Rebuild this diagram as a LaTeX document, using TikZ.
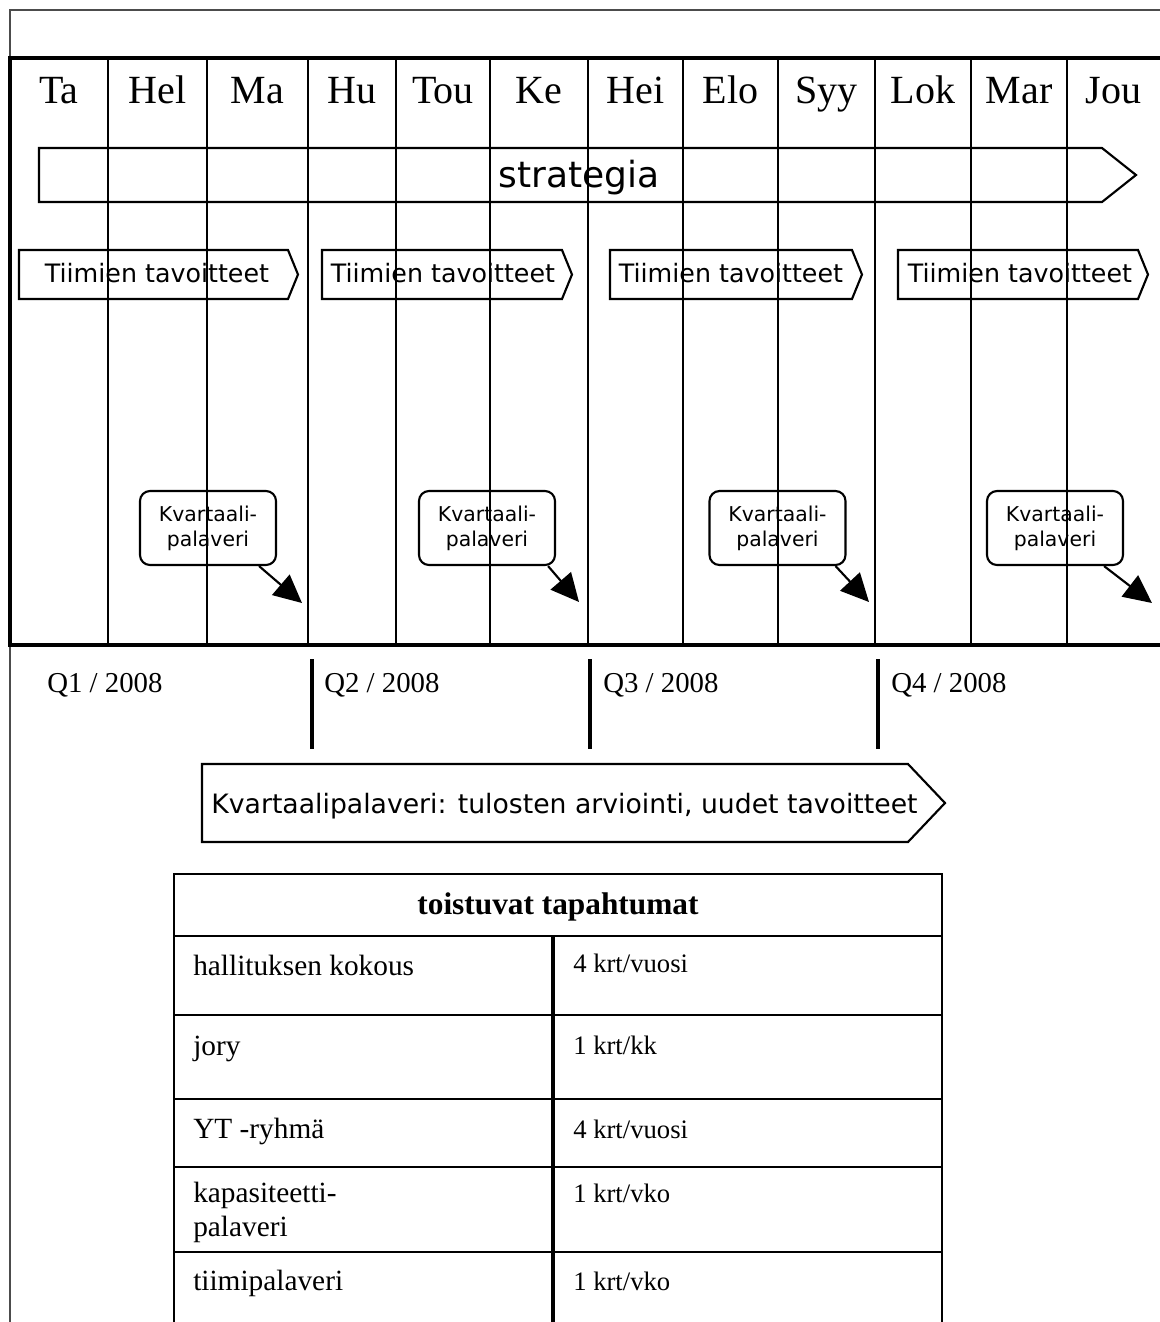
\documentclass[tikz,border=0pt]{standalone}
\usepackage{fontspec}
\setmainfont{Liberation Serif}
\newfontfamily\vsans{DejaVu Sans}
\usetikzlibrary{arrows.meta,calc}
\begin{document}
\begin{tikzpicture}[x=0.75pt,y=-0.75pt,
  frame/.style={draw=black!70, line width=1pt},
  calbox/.style={draw, line width=2.3pt},
  monthline/.style={line width=1.7pt},
  qline/.style={line width=2.3pt},
  band/.style={draw, line width=1.6pt},
  month/.style={font=\fontsize{30}{34}\selectfont, anchor=base, inner sep=0pt},
  qlabel/.style={font=\fontsize{21.6}{25}\selectfont, anchor=base west, inner sep=0pt},
  bandtext/.style={font=\vsans\fontsize{19}{22}\selectfont, anchor=base, inner sep=0pt},
  callout/.style={draw, line width=1.6pt, rounded corners=7.5pt, fill=white,
    minimum width=102pt, minimum height=55.5pt, align=center, inner sep=0pt,
    font=\vsans\fontsize{15.3}{18.75}\selectfont},
  calloutarrow/.style={line width=1.6pt, -{Triangle[length=21pt,width=20pt]}},
  cell/.style={font=\fontsize{22}{25}\selectfont, anchor=base west, inner sep=0pt},
  rcell/.style={font=\fontsize{20}{24}\selectfont, anchor=base west, inner sep=0pt},
  tline/.style={line width=1.6pt},
]
\useasboundingbox (0,0) rectangle (1160,1322);

% page frame
\draw[frame] (10,1322) -- (10,10) -- (1160,10);

% strategy band
\draw[band] (39,148) -- (1102,148) -- (1136,175) -- (1102,202) -- (39,202) -- cycle;
\node[font=\vsans\fontsize{27}{32}\selectfont, anchor=base, inner sep=0pt] (strat) at (579,187) {strategia};

% team goal bands
\foreach \a/\b/\c [count=\i] in {19/288/157, 322/562/443, 610/852/731, 898/1138/1020}{
  \draw[band] (\a,250) -- (\b,250) -- (\b+10,274.5) -- (\b,299) -- (\a,299) -- cycle;
  \node[bandtext] (goal\i) at (\c,282) {Tiimien tavoitteet};
}

% quarterly meeting callouts
\node[callout] (k1) at (208,528) {Kvartaali-\\palaveri};
\node[callout] (k2) at (487,528) {Kvartaali-\\palaveri};
\node[callout] (k3) at (777.5,528) {Kvartaali-\\palaveri};
\node[callout] (k4) at (1055,528) {Kvartaali-\\palaveri};
\coordinate (t1) at (302,603);
\coordinate (t2) at (579,602);
\coordinate (t3) at (869,602);
\coordinate (t4) at (1152,603);
\draw[calloutarrow] ($(k1.south east)+(-18,0)$) -- (t1);
\draw[calloutarrow] ($(k2.south east)+(-8,0)$) -- (t2);
\draw[calloutarrow] ($(k3.south east)+(-11,0)$) -- (t3);
\draw[calloutarrow] ($(k4.south east)+(-20,0)$) -- (t4);

% month grid
\foreach \x in {108,207,308,396,490,588,683,778,875,971,1067}{
  \draw[monthline] (\x,58) -- (\x,645);
}
\draw[calbox] (1162,58) -- (10,58) -- (10,645) -- (1162,645);

\foreach \m/\c [count=\i] in {Ta/59, Hel/157.5, Ma/257.5, Hu/352, Tou/443, Ke/539,
  Hei/635.5, Elo/730.5, Syy/826.5, Lok/923, Mar/1019, Jou/1113.5}{
  \node[month] (m\i) at (\c,103) {\m};
}

% quarter markers
\node[qlabel] (q1) at (47,692) {Q1 / 2008};
\node[qlabel] (q2) at (324,692) {Q2 / 2008};
\node[qlabel] (q3) at (603,692) {Q3 / 2008};
\node[qlabel] (q4) at (891,692) {Q4 / 2008};
\draw[qline] (312,659) -- (312,749);
\draw[qline] (590,659) -- (590,749);
\draw[qline] (878,659) -- (878,749);

% quarterly meeting band
\draw[band] (202,764) -- (908,764) -- (945,803) -- (908,842) -- (202,842) -- cycle;
\node[font=\vsans\fontsize{20}{24}\selectfont, anchor=base, inner sep=0pt] (kp) at (564.5,813)
  {Kvartaalipalaveri: tulosten arviointi, uudet tavoitteet};

% recurring events table
\draw[tline] (174,1330) -- (174,874) -- (942,874) -- (942,1330);
\draw[tline] (174,936) -- (942,936);
\draw[tline] (174,1015) -- (942,1015);
\draw[tline] (174,1099) -- (942,1099);
\draw[tline] (174,1167) -- (942,1167);
\draw[tline] (174,1252) -- (942,1252);
\draw[line width=2.3pt] (553,936) -- (553,1330);

\node[font=\bfseries\fontsize{23.5}{28}\selectfont, anchor=base, inner sep=0pt] (head) at (558,914) {toistuvat tapahtumat};
\node[cell] (r1a) at (193,975) {hallituksen kokous};
\node[rcell] (r1b) at (573,972) {4 krt/vuosi};
\node[cell] (r2a) at (193,1055) {jory};
\node[rcell] (r2b) at (573,1054) {1 krt/kk};
\node[cell] (r3a) at (193,1138) {YT -ryhmä};
\node[rcell] (r3b) at (573,1138) {4 krt/vuosi};
\node[cell] (r4a) at (193,1202) {kapasiteetti-};
\node[cell] (r4c) at (193,1236) {palaveri};
\node[rcell] (r4b) at (573,1202) {1 krt/vko};
\node[cell] (r5a) at (193,1290) {tiimipalaveri};
\node[rcell] (r5b) at (573,1290) {1 krt/vko};
\end{tikzpicture}
\end{document}
